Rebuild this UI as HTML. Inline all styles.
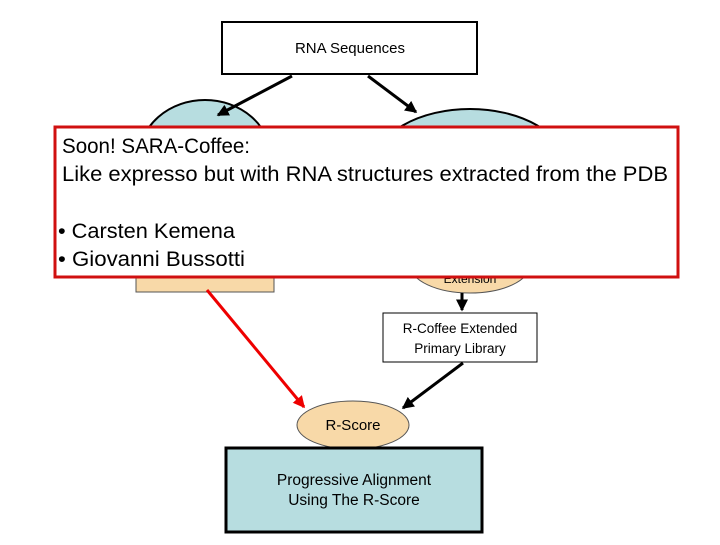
<!DOCTYPE html>
<html><head><style>
body{margin:0;background:#fff;}
svg text{font-family:"Liberation Sans",sans-serif;}
</style></head><body>
<svg width="720" height="540" xmlns="http://www.w3.org/2000/svg">
<defs>
<marker id="ab" markerWidth="4" markerHeight="4" refX="3.5" refY="2" orient="auto" markerUnits="strokeWidth"><path d="M0,0 L4,2 L0,4z" fill="#000"/></marker>
<marker id="ar" markerWidth="4" markerHeight="4" refX="3.5" refY="2" orient="auto" markerUnits="strokeWidth"><path d="M0,0 L4,2 L0,4z" fill="#e00"/></marker>
</defs>
<rect x="222" y="22" width="255" height="52" fill="#fff" stroke="#000" stroke-width="2"/>
<text x="350" y="53" font-size="15" text-anchor="middle">RNA Sequences</text>
<ellipse cx="205" cy="158" rx="66" ry="58" fill="#b7dde0" stroke="#000" stroke-width="2"/>
<ellipse cx="470" cy="165" rx="95" ry="56" fill="#b7dde0" stroke="#000" stroke-width="2"/>
<line x1="292" y1="76" x2="218" y2="115" stroke="#000" stroke-width="3" marker-end="url(#ab)"/>
<line x1="368" y1="76" x2="416" y2="112" stroke="#000" stroke-width="3" marker-end="url(#ab)"/>
<rect x="136" y="250" width="138" height="42" fill="#f8d9a8" stroke="#555" stroke-width="1"/>
<ellipse cx="470" cy="265" rx="60" ry="28" fill="#f8d9a8" stroke="#555" stroke-width="1"/>
<text x="470" y="283" font-size="12" text-anchor="middle">Extension</text>
<line x1="462" y1="293" x2="462" y2="310" stroke="#000" stroke-width="3" marker-end="url(#ab)"/>
<rect x="383" y="313" width="154" height="49" fill="#fff" stroke="#000" stroke-width="1"/>
<text x="460" y="333" font-size="13.5" text-anchor="middle">R-Coffee Extended</text>
<text x="460" y="353" font-size="13.5" text-anchor="middle">Primary Library</text>
<line x1="207" y1="290" x2="304" y2="407" stroke="#e00" stroke-width="3" marker-end="url(#ar)"/>
<line x1="463" y1="363" x2="403" y2="408" stroke="#000" stroke-width="3" marker-end="url(#ab)"/>
<ellipse cx="353" cy="425" rx="56" ry="24" fill="#f8d9a8" stroke="#555" stroke-width="1"/>
<text x="353" y="430" font-size="15" text-anchor="middle">R-Score</text>
<rect x="226" y="448" width="256" height="84" fill="#b7dde0" stroke="#000" stroke-width="3"/>
<text x="354" y="485" font-size="15.5" text-anchor="middle">Progressive Alignment</text>
<text x="354" y="505" font-size="15.5" text-anchor="middle">Using The R-Score</text>
<rect x="55" y="127" width="623" height="150" fill="#fff" stroke="#d01010" stroke-width="3"/>
<text x="62" y="153" font-size="21.5" textLength="188" lengthAdjust="spacingAndGlyphs">Soon! SARA-Coffee:</text>
<text x="62" y="181" font-size="21.5" textLength="606" lengthAdjust="spacingAndGlyphs">Like expresso but with RNA structures extracted from the PDB</text>
<text x="58" y="238" font-size="21.5" textLength="177" lengthAdjust="spacingAndGlyphs">• Carsten Kemena</text>
<text x="58" y="266" font-size="21.5" textLength="187" lengthAdjust="spacingAndGlyphs">• Giovanni Bussotti</text>
</svg>
</body></html>
